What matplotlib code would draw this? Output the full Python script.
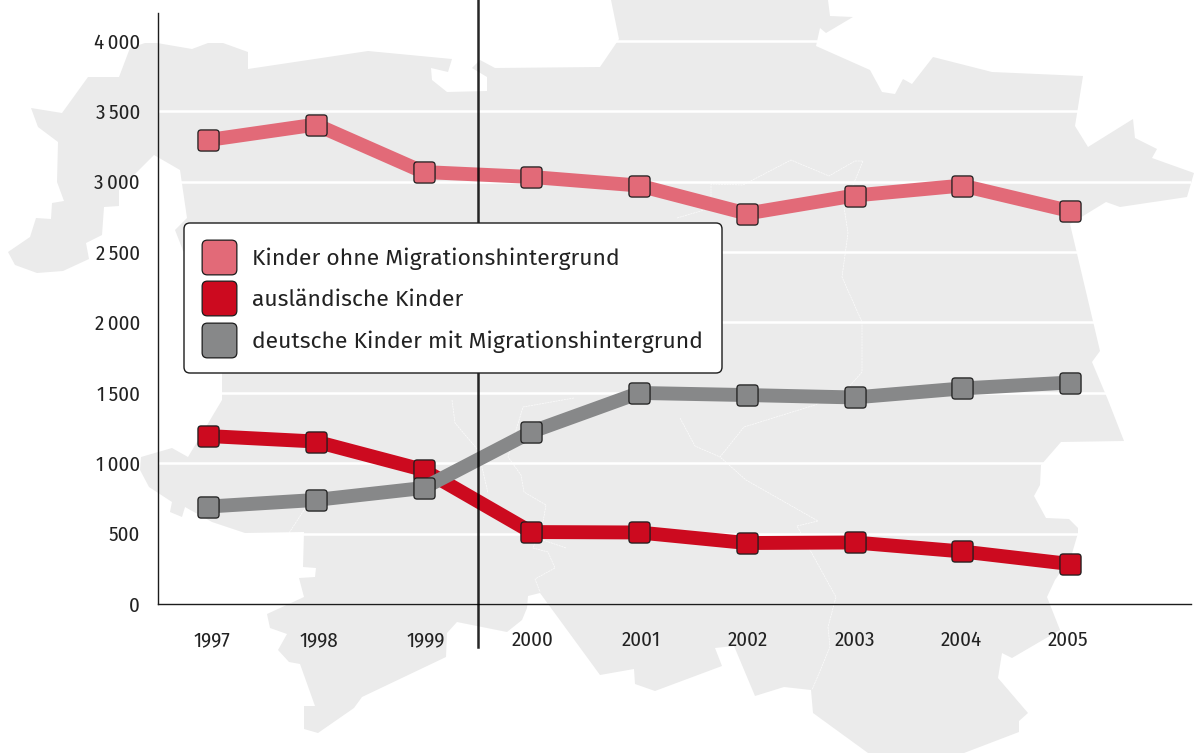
import matplotlib
matplotlib.use('Agg')
import matplotlib.pyplot as plt
from matplotlib.lines import Line2D
from matplotlib.patches import BoxStyle, FancyBboxPatch, Polygon

plt.rcParams['font.family'] = ['Fira Sans Condensed', 'Noto Sans', 'DejaVu Sans']

years = [1997, 1998, 1999, 2000, 2001, 2002, 2003, 2004, 2005]
ohne_migration = [3295, 3405, 3068, 3033, 2972, 2773, 2901, 2972, 2791]
auslaendisch = [1193, 1154, 952, 511, 508, 433, 437, 373, 284]
deutsch_migration = [692, 739, 824, 1222, 1499, 1484, 1467, 1531, 1573]
y_ticks = [0, 500, 1000, 1500, 2000, 2500, 3000, 3500, 4000]
y_tick_labels = ['0', '500', '1\u2009000', '1\u2009500', '2\u2009000', '2\u2009500', '3\u2009000', '3\u2009500', '4\u2009000']
legend_labels = ['Kinder ohne Migrationshintergrund', 'ausländische Kinder',
                 'deutsche Kinder mit Migrationshintergrund']

PINK = '#e26a78'
RED = '#cc0a1f'
GREY = '#878889'
MAP_GREY = '#ebebeb'
DARK = '#1c1c1c'

# outline of the map behind the chart, in pixels of the image
map_outline = [
    (130, 48), (145, 43), (157, 43), (192, 49), (208, 43), (223, 43), (248, 52), (248, 69),
    (368, 51), (452, 59), (448, 72), (431, 68), (432, 80), (447, 92), (487, 91), (487, 77),
    (472, 68), (480, 60), (495, 68), (600, 67), (617, 42), (619, 39), (611, 0), (828, 0),
    (830, 16), (853, 17), (826, 33), (820, 28), (816, 46), (870, 70), (882, 92), (895, 94),
    (903, 79), (912, 84), (933, 57), (992, 72), (1083, 76), (1075, 126), (1088, 147),
    (1133, 119), (1135, 138), (1157, 149), (1152, 158), (1194, 173), (1187, 197), (1120, 207),
    (1106, 202), (1070, 224), (1100, 351), (1092, 362), (1108, 400), (1124, 441), (1061, 442),
    (1041, 465), (1040, 485), (1034, 496), (1046, 518), (1069, 519), (1078, 528), (1078, 533),
    (1071, 557), (1055, 580), (1047, 597), (1060, 630), (1012, 658), (1002, 653), (998, 678),
    (1028, 713), (1019, 721), (1019, 732), (964, 753), (868, 753), (813, 713), (811, 690),
    (784, 687), (755, 696), (734, 646), (715, 648), (722, 666), (655, 691), (635, 684),
    (634, 669), (600, 675), (540, 593), (528, 596), (527, 608), (522, 620), (507, 632),
    (457, 622), (447, 633), (446, 657), (362, 697), (354, 708), (318, 733), (304, 729),
    (304, 706), (315, 706), (300, 664), (289, 662), (278, 650), (287, 634), (270, 628),
    (267, 614), (304, 597), (299, 578), (315, 577), (316, 568), (303, 567), (304, 532),
    (245, 533), (212, 522), (185, 507), (182, 517), (170, 512), (172, 502), (149, 487),
    (140, 470), (141, 457), (172, 448), (188, 457), (222, 400), (222, 373), (182, 248),
    (175, 230), (187, 218), (180, 170), (154, 155), (119, 190), (119, 206), (104, 207),
    (102, 235), (86, 243), (89, 259), (63, 271), (37, 273), (15, 265), (8, 252), (30, 237),
    (36, 218), (51, 219), (52, 203), (64, 201), (57, 182), (58, 142), (38, 127), (31, 108),
    (62, 113), (88, 77), (119, 77),
]
map_borders = [
    [(677, 218), (711, 208), (711, 184), (743, 185), (791, 160), (829, 176), (855, 161), (863, 161),
     (844, 207), (848, 233), (842, 277), (862, 322), (862, 372), (848, 388), (815, 405), (744, 427),
     (720, 457), (746, 480), (818, 521), (797, 526), (810, 550), (836, 597), (828, 627), (830, 647),
     (812, 690)],
    [(680, 418), (695, 446), (720, 457)],
    [(452, 400), (455, 423), (478, 450), (488, 493)],
    [(574, 398), (523, 407), (508, 457), (521, 475), (524, 492), (546, 505), (543, 522), (533, 548),
     (548, 552), (555, 568), (535, 579), (540, 592)],
    [(289, 533), (306, 507)],
    [(543, 540), (566, 548)],
]

W, H = 1194, 753
fig = plt.figure(figsize=(W / 100, H / 100), dpi=100)

def pixel_axes(z):
    # whole figure in pixel coordinates
    a = fig.add_axes([0, 0, 1, 1], zorder=z)
    a.set_xlim(0, W)
    a.set_ylim(H, 0)
    a.axis('off')
    return a

# background map
bg = pixel_axes(0)
bg.add_patch(Polygon(map_outline, closed=True, facecolor=MAP_GREY, edgecolor='none'))
for border in map_borders:
    xs, ys = zip(*border)
    bg.plot(xs, ys, color='white', lw=0.5, ls=(0, (3, 1)), alpha=0.85)

# chart axes
ax = fig.add_axes([158 / W, 1 - 604 / H, (1191 - 158) / W, (604 - 13) / H], zorder=1)
ax.patch.set_visible(False)
ax.set_xlim(1997 - 50 / 107.75, 1997 + 983 / 107.75)
ax.set_ylim(0, 591 / 0.1408)
for side in ['top', 'right']:
    ax.spines[side].set_visible(False)
for side in ['left', 'bottom']:
    ax.spines[side].set_color(DARK)
    ax.spines[side].set_linewidth(1.0)

ax.set_yticks(y_ticks)
ax.set_yticklabels(y_tick_labels)
# year labels sit a little off their points in the original
ax.set_xticks([1997.04, 1998.03, 1999.02, 2000.01, 2001.02, 2002.01, 2003.00, 2003.99, 2004.98])
ax.set_xticklabels(years)
ax.tick_params(axis='y', length=0, pad=13, labelsize=15, labelcolor='#222222')
ax.tick_params(axis='x', length=0, pad=19, labelsize=15, labelcolor='#222222')
ax.grid(axis='y', color='white', lw=1.8, zorder=1)
ax.set_axisbelow(True)

rounded = BoxStyle('Round', pad=0, rounding_size=0.3)(-1, -1, 2, 2, 1)

def draw_series(values, color, z):
    ax.plot(years, values, color=color, lw=10, solid_joinstyle='miter', solid_capstyle='butt',
            marker=rounded, ms=15.2, mfc=color, mec=DARK, mew=0.9, zorder=z)

draw_series(ohne_migration, PINK, 3)
draw_series(auslaendisch, RED, 4)
draw_series(deutsch_migration, GREY, 5)

# the rule between 1999 and 2000 sticks out of the axes on both ends
ax.axvline(1999.51, ymin=-43 / 591, ymax=604 / 591, color='black', alpha=0.85, lw=1.8, clip_on=False, zorder=6)

# legend box on top of everything
top = pixel_axes(2)
top.add_patch(FancyBboxPatch((184, 223), 538, 150, boxstyle='round,pad=0,rounding_size=6',
                             facecolor='white', edgecolor=DARK, lw=1.0))
handles = [Line2D([], [], ls='none', marker=rounded, ms=25, mfc=c, mec=DARK, mew=0.9)
           for c in [PINK, RED, GREY]]
top.legend(handles, legend_labels, loc='upper left', bbox_to_anchor=(202, 247.5),
           bbox_transform=top.transData, frameon=False,
           prop={'family': ['Fira Sans', 'Noto Sans', 'DejaVu Sans'], 'size': 16.5},
           labelspacing=0.845, handletextpad=0.7, borderpad=0, borderaxespad=0,
           handlelength=1.48, labelcolor='#222222')

fig.savefig('out.png', dpi=100)
